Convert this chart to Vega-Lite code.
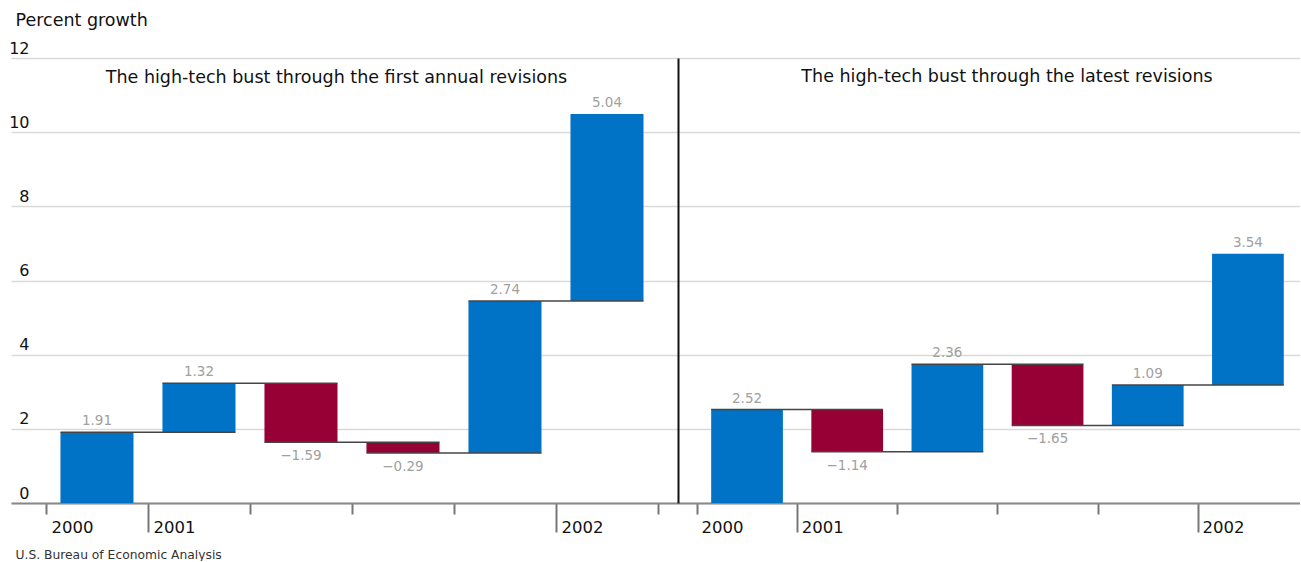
{
  "$schema": "https://vega.github.io/schema/vega-lite/v6.json",
  "padding": {"left": 8, "top": 11, "right": 0, "bottom": 0},
  "autosize": {"type": "pad"},
  "spacing": 0,
  "config": {
    "font": "DejaVu Sans",
    "view": {"stroke": null},
    "concat": {"spacing": 0},
    "title": {"fontSize": 17.5, "fontWeight": "normal", "color": "#111111", "baseline": "alphabetic", "frame": "group"}
  },
  "datasets": {
    "first": [
      {"q": "2000Q4", "start": 0, "end": 1.91, "value": 1.91, "next": "2001Q1"},
      {"q": "2001Q1", "start": 1.91, "end": 3.23, "value": 1.32, "next": "2001Q2"},
      {"q": "2001Q2", "start": 3.23, "end": 1.64, "value": -1.59, "next": "2001Q3"},
      {"q": "2001Q3", "start": 1.64, "end": 1.35, "value": -0.29, "next": "2001Q4"},
      {"q": "2001Q4", "start": 1.35, "end": 5.45, "value": 2.74, "next": "2002Q1"},
      {"q": "2002Q1", "start": 5.45, "end": 10.49, "value": 5.04, "next": null}
    ],
    "latest": [
      {"q": "2000Q4", "start": 0, "end": 2.52, "value": 2.52, "next": "2001Q1"},
      {"q": "2001Q1", "start": 2.52, "end": 1.38, "value": -1.14, "next": "2001Q2"},
      {"q": "2001Q2", "start": 1.38, "end": 3.74, "value": 2.36, "next": "2001Q3"},
      {"q": "2001Q3", "start": 3.74, "end": 2.09, "value": -1.65, "next": "2001Q4"},
      {"q": "2001Q4", "start": 2.09, "end": 3.18, "value": 1.09, "next": "2002Q1"},
      {"q": "2002Q1", "start": 3.18, "end": 6.72, "value": 3.54, "next": null}
    ]
  },
  "hconcat": [
    {
      "width": 667,
      "height": 445,
      "data": {"name": "first"},
      "title": {"text": "The high-tech bust through the first annual revisions", "dx": -8, "offset": -75},
      "layer": [
        {
          "mark": {"type": "bar", "width": {"band": 0.716}},
          "encoding": {
            "x": {
              "field": "q", "type": "ordinal",
              "scale": {"paddingInner": 0, "paddingOuter": 0.2696, "align": 0.636},
              "axis": {
                "title": "U.S. Bureau of Economic Analysis",
                "titleX": 4, "titleY": 55, "titleAlign": "left", "titleAnchor": "start", "titleBaseline": "alphabetic",
                "titleFontSize": 12.3, "titleFontWeight": "normal", "titleColor": "#333333",
                "tickBand": "extent",
                "tickSize": {"condition": {"test": "datum.value === '2000Q4' || datum.value === '2001Q4'", "value": 29}, "value": 11},
                "tickWidth": 2, "tickColor": "#777777",
                "domainColor": "#888888", "domainWidth": 2,
                "labelExpr": "datum.value == '2000Q4' ? '2000' : datum.value == '2001Q1' ? '2001' : datum.value == '2002Q1' ? '2002' : ''",
                "labelAlign": "left", "labelAngle": 0, "labelFontSize": 16.5, "labelColor": "#111111", "labelBaseline": "top",
                "labelOffset": -46,
                "labelPadding": {"condition": {"test": "datum.value === '2000Q4' || datum.value === '2001Q4'", "value": -13}, "value": 5}
              }
            },
            "y": {
              "field": "end", "type": "quantitative",
              "scale": {"domain": [0, 12], "nice": false},
              "axis": {
                "title": "Percent growth", "titleAngle": 0, "titleAlign": "left", "titleBaseline": "alphabetic",
                "titleX": 4, "titleY": -33, "titleFontSize": 17.5, "titleFontWeight": "normal", "titleColor": "#111111",
                "values": [0, 2, 4, 6, 8, 10, 12],
                "ticks": false, "domain": false,
                "grid": true, "gridColor": "#d9d9d9", "gridWidth": 1.5,
                "labelAlign": "right", "labelPadding": -18, "labelBaseline": "alphabetic", "labelOffset": -5,
                "labelFontSize": 16, "labelColor": "#111111"
              }
            },
            "y2": {"field": "start"},
            "color": {"condition": {"test": "datum.value < 0", "value": "#970034"}, "value": "#0073C6"}
          }
        },
        {
          "transform": [{"filter": "datum.next != null"}],
          "mark": {"type": "rule", "color": "#444444", "strokeWidth": 1.5},
          "encoding": {
            "x": {"field": "q", "type": "ordinal", "bandPosition": 0.142},
            "x2": {"field": "next", "bandPosition": 0.858},
            "y": {"field": "end", "type": "quantitative"}
          }
        },
        {
          "transform": [{"filter": "datum.value > 0"}],
          "mark": {"type": "text", "baseline": "alphabetic", "dy": -7, "fontSize": 13.5, "color": "#a0a0a0"},
          "encoding": {
            "x": {"field": "q", "type": "ordinal"},
            "y": {"field": "end", "type": "quantitative"},
            "text": {"field": "value", "type": "quantitative", "format": ".2f"}
          }
        },
        {
          "transform": [{"filter": "datum.value < 0"}],
          "mark": {"type": "text", "baseline": "top", "dy": 7, "fontSize": 13.5, "color": "#a0a0a0"},
          "encoding": {
            "x": {"field": "q", "type": "ordinal"},
            "y": {"field": "end", "type": "quantitative"},
            "text": {"field": "value", "type": "quantitative", "format": ".2f"}
          }
        }
      ]
    },
    {
      "width": 622,
      "height": 445,
      "data": {"name": "latest"},
      "title": {"text": "The high-tech bust through the latest revisions", "dx": 18, "offset": -27},
      "layer": [
        {
          "mark": {"type": "bar", "width": {"band": 0.716}},
          "encoding": {
            "x": {
              "field": "q", "type": "ordinal",
              "scale": {"paddingInner": 0, "paddingOuter": 0.1045, "align": 0.905},
              "axis": {
                "title": null,
                "tickBand": "extent",
                "tickSize": {"condition": {"test": "datum.value === '2000Q4' || datum.value === '2001Q4'", "value": 29}, "value": 11},
                "tickOpacity": {"condition": {"test": "datum.value === '2002Q1'", "value": 0}, "value": 1},
                "tickWidth": 2, "tickColor": "#777777",
                "domainColor": "#888888", "domainWidth": 2,
                "labelExpr": "datum.value == '2000Q4' ? '2000' : datum.value == '2001Q1' ? '2001' : datum.value == '2002Q1' ? '2002' : ''",
                "labelAlign": "left", "labelAngle": 0, "labelFontSize": 16.5, "labelColor": "#111111", "labelBaseline": "top",
                "labelOffset": -46,
                "labelPadding": {"condition": {"test": "datum.value === '2000Q4' || datum.value === '2001Q4'", "value": -13}, "value": 5}
              }
            },
            "y": {
              "field": "end", "type": "quantitative",
              "scale": {"domain": [0, 12], "nice": false},
              "axis": {
                "title": null,
                "values": [0, 2, 4, 6, 8, 10, 12],
                "ticks": false, "labels": false,
                "domain": true, "domainColor": "#111111", "domainWidth": 2,
                "grid": true, "gridColor": "#d9d9d9", "gridWidth": 1.5
              }
            },
            "y2": {"field": "start"},
            "color": {"condition": {"test": "datum.value < 0", "value": "#970034"}, "value": "#0073C6"}
          }
        },
        {
          "transform": [{"filter": "datum.next != null"}],
          "mark": {"type": "rule", "color": "#444444", "strokeWidth": 1.5},
          "encoding": {
            "x": {"field": "q", "type": "ordinal", "bandPosition": 0.142},
            "x2": {"field": "next", "bandPosition": 0.858},
            "y": {"field": "end", "type": "quantitative"}
          }
        },
        {
          "transform": [{"filter": "datum.value > 0"}],
          "mark": {"type": "text", "baseline": "alphabetic", "dy": -7, "fontSize": 13.5, "color": "#a0a0a0"},
          "encoding": {
            "x": {"field": "q", "type": "ordinal"},
            "y": {"field": "end", "type": "quantitative"},
            "text": {"field": "value", "type": "quantitative", "format": ".2f"}
          }
        },
        {
          "transform": [{"filter": "datum.value < 0"}],
          "mark": {"type": "text", "baseline": "top", "dy": 7, "fontSize": 13.5, "color": "#a0a0a0"},
          "encoding": {
            "x": {"field": "q", "type": "ordinal"},
            "y": {"field": "end", "type": "quantitative"},
            "text": {"field": "value", "type": "quantitative", "format": ".2f"}
          }
        }
      ]
    }
  ]
}
